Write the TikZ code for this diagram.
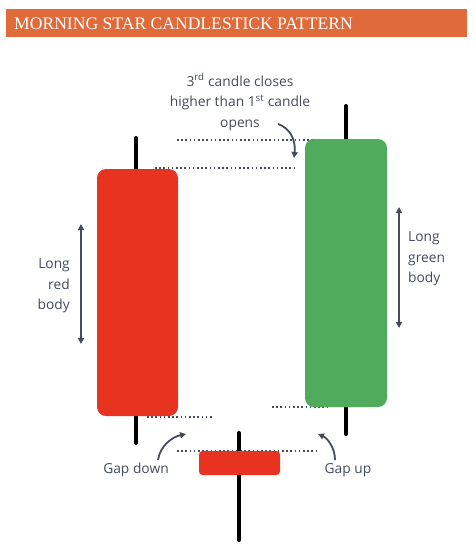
\documentclass[tikz,border=0pt]{standalone}
\usepackage{fontspec}
\setmainfont{Liberation Serif}
\newfontfamily\handfont{Open Sans}
\usetikzlibrary{arrows.meta}
\definecolor{hdr}{HTML}{E06A3A}
\definecolor{cred}{HTML}{E83320}
\definecolor{cgreen}{HTML}{50AC5C}
\definecolor{ink}{HTML}{434B5C}
\tikzset{
  body/.style={rounded corners=9pt, draw=none},
  wick/.style={line width=4pt, black, line cap=round},
  dotline/.style={ink, line width=2.2pt, dash pattern=on 1.6pt off 2.6pt},
  note/.style={ink, font=\handfont\fontsize{13.8}{20.5}\selectfont, inner sep=0pt},
  pointer/.style={ink, line width=1.8pt, -{Triangle[length=6pt,width=6pt]}},
  span/.style={ink, line width=1.8pt, {Triangle[length=6pt,width=6pt]}-{Triangle[length=6pt,width=6pt]}}
}
\begin{document}
\begin{tikzpicture}[x=1pt,y=-1pt]
\useasboundingbox (0,0) rectangle (474,558);
\fill[white] (0,0) rectangle (474,558);
% header
\fill[hdr] (6,9) rectangle (467,37);
\node[anchor=west, text=white, font=\fontsize{17.6}{20}\selectfont, inner sep=0pt] (title) at (14,23.5) {MORNING STAR CANDLESTICK PATTERN};
% dotted guide lines (behind bodies)
\coordinate (d1a) at (177,140); \coordinate (d1b) at (322,140);
\coordinate (d2a) at (155,168); \coordinate (d2b) at (295,168);
\coordinate (d3a) at (147,417); \coordinate (d3b) at (212,417);
\coordinate (d4a) at (272,407); \coordinate (d4b) at (330,407);
\coordinate (d5a) at (177,451); \coordinate (d5b) at (317,451);
\draw[dotline] (d1a) -- (d1b);
\draw[dotline] (d2a) -- (d2b);
\draw[dotline] (d3a) -- (d3b);
\draw[dotline] (d4a) -- (d4b);
\draw[dotline] (d5a) -- (d5b);
% wicks
\coordinate (w1t) at (136,138); \coordinate (w1b) at (136,443);
\coordinate (w2t) at (346,106); \coordinate (w2b) at (346,434);
\coordinate (w3t) at (239,433); \coordinate (w3b) at (239,540);
\draw[wick] (w1t) -- (w1b);
\draw[wick] (w2t) -- (w2b);
\draw[wick] (w3t) -- (w3b);
% bodies
\fill[cred, body] (97,169) rectangle (178,416);
\fill[cgreen, body] (305,139) rectangle (387,407);
\fill[cred, rounded corners=3.5pt] (199,451) rectangle (280,475);
% top note
\node[note, align=center] (topnote) at (240,102) {3\textsuperscript{rd} candle closes\\higher than 1\textsuperscript{st} candle\\opens};
\coordinate (ta) at (278,124); \coordinate (tb) at (294,158);
\draw[pointer] (ta) .. controls (290,128) and (296,140) .. (tb);
% left note
\node[note, align=right, anchor=east] (lnote) at (70,286) {Long\\red\\body};
\coordinate (la) at (81,224); \coordinate (lb) at (81,344);
\draw[span] (la) -- (lb);
% right note
\node[note, align=left, anchor=west] (rnote) at (408,259) {Long\\green\\body};
\coordinate (ra) at (399,207); \coordinate (rb) at (399,328);
\draw[span] (ra) -- (rb);
% gap labels
\node[note] (gd) at (136,470) {Gap down};
\node[note] (gu) at (348,470) {Gap up};
\coordinate (gda) at (158,460); \coordinate (gdb) at (186,434);
\draw[pointer] (gda) .. controls (160,446) and (172,437) .. (gdb);
\coordinate (gua) at (335,460); \coordinate (gub) at (318,434);
\draw[pointer] (gua) .. controls (335,447) and (327,438) .. (gub);
\end{tikzpicture}
\end{document}
